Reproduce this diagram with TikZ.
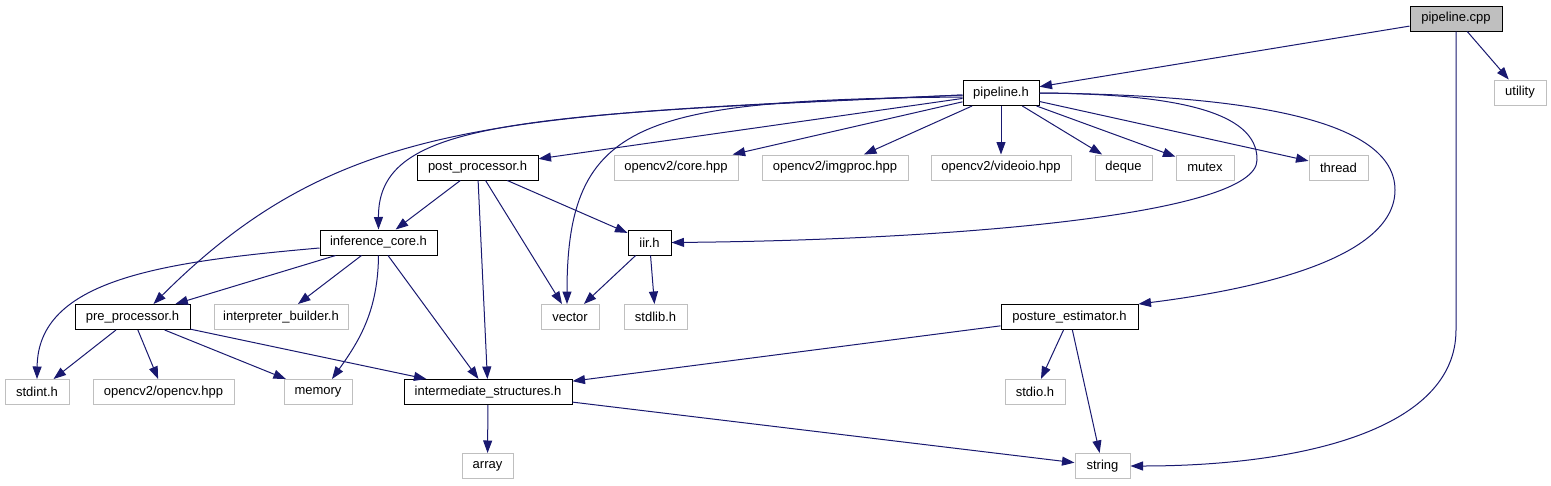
\documentclass[tikz,border=0pt]{standalone}
\usepackage{fontspec}
\setmainfont{Liberation Sans}
\usetikzlibrary{arrows.meta}
\definecolor{edgeblue}{HTML}{191970}
\definecolor{extgray}{HTML}{BFBFBF}
\tikzset{
  box/.style={minimum height=25pt, inner sep=0pt, font=\fontsize{13}{15}\selectfont, fill=white},
  doc/.style={box, draw=black, line width=1pt},
  ext/.style={box, draw=extgray, line width=1pt},
  root/.style={box, draw=black, line width=1pt, fill=extgray},
  dep/.style={draw=edgeblue, line width=1pt, -{Triangle[length=12.5pt,width=9pt]}}
}
\begin{document}
\begin{tikzpicture}[x=1pt,y=-1pt]
\useasboundingbox[fill=white] (0,0) rectangle (1551,485);
% row 0-1
\node[root, minimum width=92pt] (cpp) at (1456,18.5) {pipeline.cpp};
\node[ext, minimum width=52pt] (utility) at (1520,92.5) {utility};
\node[doc, minimum width=76pt] (pipeh) at (1001,93) {pipeline.h};
% row 2
\node[doc, minimum width=121pt] (post) at (477.5,167.5) {post\_processor.h};
\node[ext, minimum width=124pt] (core) at (676,167.5) {opencv2/core.hpp};
\node[ext, minimum width=146pt] (imgproc) at (835,167.5) {opencv2/imgproc.hpp};
\node[ext, minimum width=140pt] (videoio) at (1001,167.5) {opencv2/videoio.hpp};
\node[ext, minimum width=57pt] (deque) at (1123.5,167.5) {deque};
\node[ext, minimum width=58pt] (mutex) at (1205,167.5) {mutex};
\node[ext, minimum width=59pt] (thread) at (1338.5,167.5) {thread};
% row 3
\node[doc, minimum width=117pt] (infer) at (378.5,242.5) {inference\_core.h};
\node[doc, minimum width=43pt] (iir) at (649.5,242.5) {iir.h};
% row 4
\node[doc, minimum width=115pt] (pre) at (132.5,317) {pre\_processor.h};
\node[ext, minimum width=134pt] (interp) at (281,317) {interpreter\_builder.h};
\node[ext, minimum width=58pt] (vector) at (570,317) {vector};
\node[ext, minimum width=63pt] (stdlib) at (655.5,317) {stdlib.h};
\node[doc, minimum width=137pt] (posture) at (1069.5,317) {posture\_estimator.h};
% row 5
\node[ext, minimum width=64pt] (stdint) at (37,392) {stdint.h};
\node[ext, minimum width=141pt] (opencv) at (163.5,392) {opencv2/opencv.hpp};
\node[ext, minimum width=68pt] (memory) at (318,392) {memory};
\node[doc, minimum width=168pt] (inter) at (488,392) {intermediate\_structures.h};
\node[ext, minimum width=60pt] (stdio) at (1035,392) {stdio.h};
% row 6
\node[ext, minimum width=51pt] (array) at (487.5,466) {array};
\node[ext, minimum width=55pt] (string) at (1102.5,466) {string};

% edges from pipeline.cpp
\draw[dep] (cpp) -- (pipeh);
\draw[dep] (cpp) -- (utility);
\draw[dep] (cpp.south) -- (1456,330) .. controls (1456,430) and (1300,466) .. (string.east);
% edges from pipeline.h
\draw[dep] (pipeh) -- (post);
\draw[dep] (pipeh) -- (core);
\draw[dep] (pipeh) -- (imgproc);
\draw[dep] (pipeh) -- (videoio);
\draw[dep] (pipeh) -- (deque);
\draw[dep] (pipeh) -- (mutex);
\draw[dep] (pipeh) -- (thread);
\draw[dep] ([yshift=-2pt]pipeh.west) .. controls (500,115) and (340,118) .. ([xshift=21pt]pre.north);
\draw[dep] ([yshift=-2pt]pipeh.west) .. controls (520,115) and (378,120) .. (infer.north);
\draw[dep] ([yshift=-4pt]pipeh.west) .. controls (640,100) and (567,120) .. ([xshift=-3pt]vector.north);
\draw[dep] (pipeh.east) .. controls (1170,94) and (1258,110) .. (1257,160)
  .. controls (1257,215) and (950,240) .. (iir.east);
\draw[dep] (pipeh.east) .. controls (1250,95) and (1395,120) .. (1395,190)
  .. controls (1395,260) and (1250,290) .. (posture.north east);
% post_processor.h
\draw[dep] (post) -- (infer);
\draw[dep] (post) -- (iir);
\draw[dep] (post) -- (vector);
\draw[dep] (post) -- (inter);
% inference_core.h
\draw[dep] (infer) -- (pre);
\draw[dep] (infer) -- (interp);
\draw[dep] ([yshift=-5.5pt]infer.west) .. controls (160,262) and (38,280) .. (stdint.north);
\draw[dep] (infer.south) .. controls (378,310) and (360,340) .. ([xshift=14pt]memory.north);
\draw[dep] (infer) -- (inter);
% iir.h
\draw[dep] (iir) -- (vector);
\draw[dep] (iir) -- (stdlib);
% pre_processor.h
\draw[dep] (pre) -- (stdint);
\draw[dep] (pre) -- (opencv);
\draw[dep] (pre) -- (memory);
\draw[dep] (pre) -- (inter);
% posture_estimator.h
\draw[dep] (posture) -- (inter);
\draw[dep] (posture) -- (stdio);
\draw[dep] (posture) -- (string);
% intermediate_structures.h
\draw[dep] (inter) -- (array);
\draw[dep] (inter) -- (string);
\end{tikzpicture}
\end{document}
